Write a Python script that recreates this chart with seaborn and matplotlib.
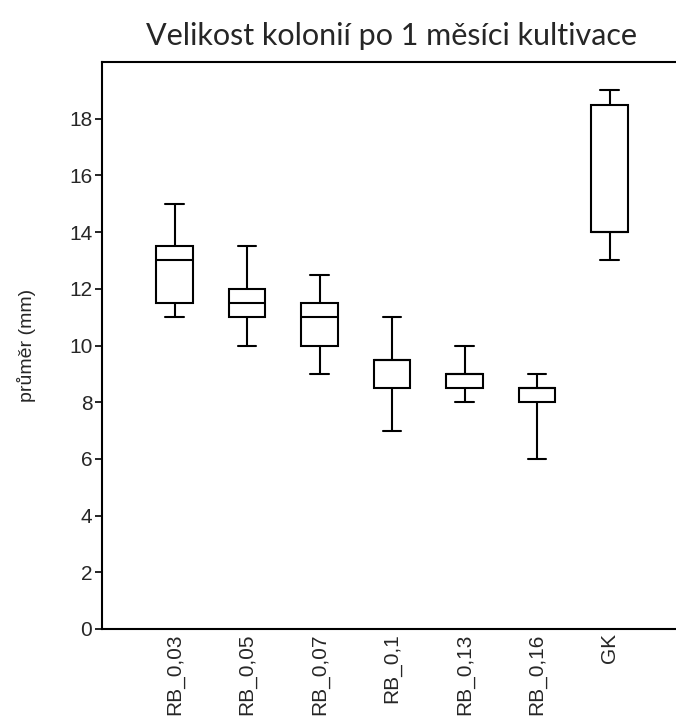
import matplotlib
matplotlib.use("Agg")
import matplotlib.pyplot as plt
import seaborn as sns
import pandas as pd

categories = ["RB_0,03", "RB_0,05", "RB_0,07", "RB_0,1", "RB_0,13", "RB_0,16", "GK"]
whisker_low = [11, 10, 9, 7, 8, 6, 13]
q1 = [11.5, 11, 10, 8.5, 8.5, 8, 14]
median = [13, 11.5, 11, 9.5, 9, 8.5, 14]
q3 = [13.5, 12, 11.5, 9.5, 9, 8.5, 18.5]
whisker_high = [15, 13.5, 12.5, 11, 10, 9, 19]
yticks = [0, 2, 4, 6, 8, 10, 12, 14, 16, 18]

rows = []
for c, a, b, m, d, e in zip(categories, whisker_low, q1, median, q3, whisker_high):
    for v in (a, b, m, d, e):
        rows.append({"group": c, "value": v})
df = pd.DataFrame(rows)

sns.set_style("ticks")
plt.rcParams["font.family"] = ["Liberation Sans", "DejaVu Sans"]

fig = plt.figure(figsize=(6.76, 7.24), dpi=100)
ax = fig.add_axes([102/676, (724-629)/724, 580/676, (629-62)/724])

sns.boxplot(data=df, x="group", y="value", order=categories, whis=(0, 100),
            width=0.5, color="white", linecolor="black", linewidth=1.5,
            showfliers=False, ax=ax)

ax.set_xlim(-1, 7)
ax.set_ylim(0, 20)
ax.set_yticks(yticks)
ax.set_yticklabels([str(t) for t in yticks], fontsize=15)
ax.set_xticks(range(len(categories)))
ax.set_xticklabels(categories, rotation=90, fontsize=15, va="top")
ax.tick_params(axis="x", length=0, pad=3)
ax.tick_params(axis="y", length=5, width=1.2, color="black", pad=2)
ax.set_xlabel("")
ax.set_ylabel("průměr (mm)", fontsize=14, labelpad=24)
for s in ["left", "top", "bottom"]:
    ax.spines[s].set_visible(True)
    ax.spines[s].set_linewidth(1.5)
    ax.spines[s].set_color("black")
ax.spines["right"].set_visible(False)

fig.text(391/676, 1 - 36/724, "Velikost kolonií po 1 měsíci kultivace",
         ha="center", va="center", fontsize=22, family=["Lato", "DejaVu Sans"])

fig.savefig("out.png", dpi=100)
